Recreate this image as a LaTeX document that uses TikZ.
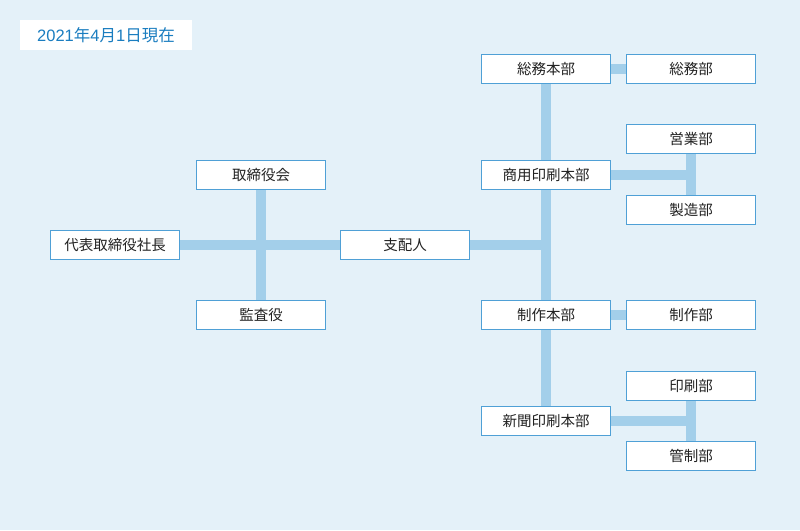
\documentclass[tikz,border=0pt]{standalone}
\usepackage{fontspec}
\setmainfont{Noto Sans CJK JP}
\newfontfamily\latf{Liberation Sans}
\definecolor{bgc}{HTML}{E4F1F9}
\definecolor{linec}{HTML}{A3CFEA}
\definecolor{boxc}{HTML}{4FA0D6}
\definecolor{datec}{HTML}{1A7DC0}
\definecolor{txtc}{HTML}{222222}
\pgfdeclarelayer{bg}
\pgfsetlayers{bg,main}
\tikzset{
  unit/.style={draw=boxc, line width=1pt, fill=white, minimum width=129pt, minimum height=29pt, inner sep=0pt, text=txtc, font=\fontsize{14.5pt}{16pt}\selectfont},
  conn/.style={draw=linec, line width=10pt},
}
\begin{document}
\begin{tikzpicture}[x=1pt,y=-1pt]
\useasboundingbox (0,0) rectangle (800,530);
\node[fill=white, minimum width=172pt, minimum height=30pt, inner sep=0pt, text=datec, font=\fontsize{16.5pt}{18pt}\selectfont] (date) at (106,35) {{\latf 2021}年{\latf 4}月{\latf 1}日現在};

\node[unit] (ceo) at (115,245) {代表取締役社長};
\node[unit] (board) at (261,175) {取締役会};
\node[unit] (audit) at (261,315) {監査役};
\node[unit] (mgr) at (405,245) {支配人};

\node[unit] (soumuH) at (546,69) {総務本部};
\node[unit] (shoyoH) at (546,175) {商用印刷本部};
\node[unit] (seisakuH) at (546,315) {制作本部};
\node[unit] (shinbunH) at (546,421) {新聞印刷本部};

\node[unit] (soumu) at (691,69) {総務部};
\node[unit] (eigyo) at (691,139) {営業部};
\node[unit] (seizo) at (691,210) {製造部};
\node[unit] (seisaku) at (691,315) {制作部};
\node[unit] (insatsu) at (691,386) {印刷部};
\node[unit] (kansei) at (691,456) {管制部};

\begin{pgfonlayer}{bg}
\fill[bgc] (0,0) rectangle (800,530);
\draw[conn] (ceo.east) -- (mgr.west);
\draw[conn] (board.south) -- (audit.north);
\draw[conn] (mgr.east) -- (mgr.east -| soumuH.south);
\draw[conn] (soumuH.south) -- (shinbunH.north);
\draw[conn] (soumuH.east) -- (soumu.west);
\draw[conn] (shoyoH.east) -- (shoyoH.east -| eigyo.south);
\draw[conn] (eigyo.south) -- (seizo.north);
\draw[conn] (seisakuH.east) -- (seisaku.west);
\draw[conn] (shinbunH.east) -- (shinbunH.east -| insatsu.south);
\draw[conn] (insatsu.south) -- (kansei.north);
\end{pgfonlayer}
\end{tikzpicture}
\end{document}
